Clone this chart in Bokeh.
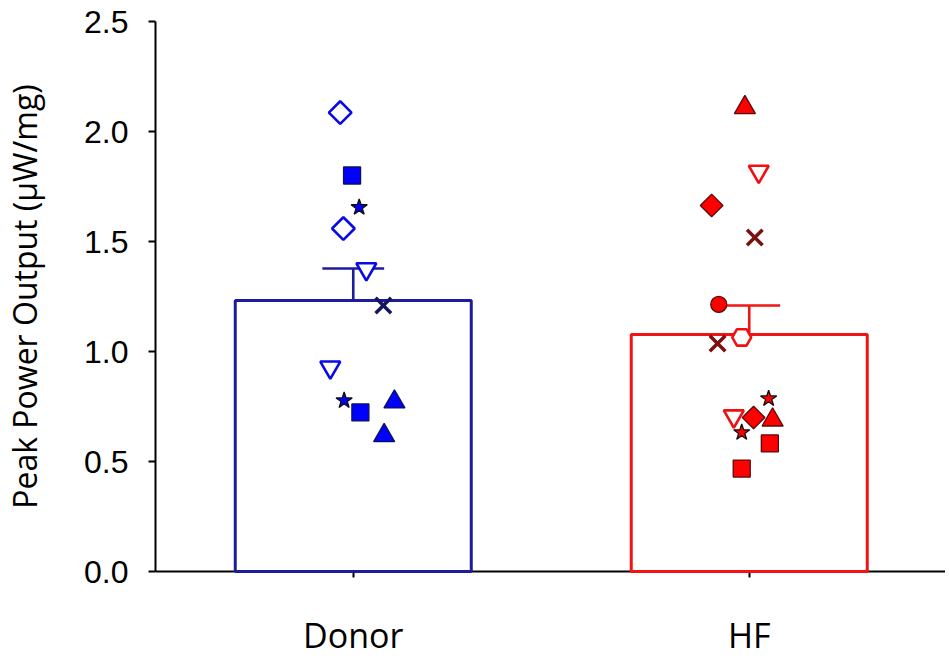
import math
from bokeh.plotting import figure
from bokeh.models import ColumnDataSource, Range1d, FixedTicker, PrintfTickFormatter
from bokeh.embed import file_html
from bokeh.resources import INLINE

# ---------------- data ----------------
groups = ["Donor", "HF"]
group_pos = [1, 2]
bar_means = [1.232, 1.077]
bar_sem = [0.145, 0.132]

donor_offsets = [-0.033, -0.003, 0.015, -0.025, 0.033, 0.076, -0.058, -0.023, 0.018, 0.104, 0.078]
donor_values = [2.086, 1.800, 1.655, 1.559, 1.375, 1.209, 0.928, 0.777, 0.723, 0.771, 0.618]
donor_types = ["diamond_open", "square", "star", "diamond_open", "invtri_open", "x",
               "invtri_open", "star", "square", "triangle", "triangle"]

hf_offsets = [-0.011, 0.024, -0.095, 0.014, -0.077, -0.019, -0.080, -0.039, 0.011, 0.049, -0.019, 0.059, 0.052, -0.019]
hf_values = [2.109, 1.818, 1.664, 1.518, 1.214, 1.064, 1.036, 0.706, 0.700, 0.786, 0.632, 0.689, 0.582, 0.468]
hf_types = ["triangle", "invtri_open", "diamond", "x", "circle", "hex_open", "x",
            "invtri_open", "diamond", "star", "star", "triangle", "square", "square"]

y_ticks = [0.0, 0.5, 1.0, 1.5, 2.0, 2.5]

# ---------------- styles ----------------
palette = {
    "Donor": dict(fill="#0000ff", edge="#10105a", open="#0a0ae6", x="#16165e", bar="#1c1c9c"),
    "HF": dict(fill="#ff0000", edge="#5a0a0a", open="#f01010", x="#7a1010", bar="#f01414"),
}
shape = {
    "square": ("square", 17, 0.0, True),
    "diamond": ("square", 16, math.pi / 4, True),
    "diamond_open": ("square", 16, math.pi / 4, False),
    "triangle": ("triangle", 21, 0.0, True),
    "invtri_open": ("inverted_triangle", 20, 0.0, False),
    "star": ("star", 17, 0.0, True),
    "x": ("x", 22, 0.0, None),
    "circle": ("circle", 16, 0.0, True),
    "hex_open": ("hex", 19, 0.0, False),
}

def build_source(center, offsets, values, types, col):
    d = dict(x=[], y=[], marker=[], size=[], angle=[], fill=[], line=[], lw=[])
    for off, v, t in zip(offsets, values, types):
        m, s, a, filled = shape[t]
        d["x"].append(center + off)
        d["y"].append(v)
        d["marker"].append(m)
        d["size"].append(s)
        d["angle"].append(a)
        if filled is None:
            d["fill"].append(col["x"]); d["line"].append(col["x"]); d["lw"].append(3.5)
        elif filled:
            d["fill"].append(col["fill"])
            d["line"].append("#101010" if m == "star" else col["edge"])
            d["lw"].append(1.3)
        else:
            d["fill"].append("white"); d["line"].append(col["open"]); d["lw"].append(2.6)
    return ColumnDataSource(d)

# ---------------- figure ----------------
p = figure(width=945, height=660, x_range=Range1d(0.5006, 2.4956), y_range=Range1d(0, 2.5),
           output_backend="svg", toolbar_location=None,
           min_border_left=154, min_border_right=0, min_border_top=21, min_border_bottom=89)
p.outline_line_color = None
p.grid.visible = False
p.background_fill_color = "white"
p.border_fill_color = "white"

bars = p.vbar(x=group_pos, top=bar_means, bottom=0, width=0.596, fill_color=None,
              line_color=[palette[g]["bar"] for g in groups], line_width=3)
bars.level = "overlay"

err_top = [m + s for m, s in zip(bar_means, bar_sem)]
cap_half = 0.078
e1 = p.segment(x0=group_pos, y0=bar_means, x1=group_pos, y1=err_top,
               line_color=[palette[g]["bar"] for g in groups], line_width=2.6)
e2 = p.segment(x0=[g - cap_half for g in group_pos], y0=err_top,
               x1=[g + cap_half for g in group_pos], y1=err_top,
               line_color=[palette[g]["bar"] for g in groups], line_width=2.6)
e1.level = "overlay"
e2.level = "overlay"

for center, offs, vals, types, g in [(1, donor_offsets, donor_values, donor_types, "Donor"),
                                     (2, hf_offsets, hf_values, hf_types, "HF")]:
    src = build_source(center, offs, vals, types, palette[g])
    r = p.scatter(x="x", y="y", marker="marker", size="size", angle="angle",
                  fill_color="fill", line_color="line", line_width="lw", source=src)
    r.level = "overlay"

# axes
xa = p.xaxis[0]
xa.ticker = FixedTicker(ticks=group_pos)
xa.major_label_overrides = {gp: g for gp, g in zip(group_pos, groups)}
xa.major_label_text_font = "Open Sans"
xa.major_label_text_font_size = "34px"
xa.major_label_text_color = "black"
xa.major_label_standoff = 34
xa.major_tick_out = 6
xa.major_tick_in = 0
xa.minor_tick_out = 0
xa.minor_tick_in = 0
xa.axis_line_width = 2
xa.major_tick_line_width = 2

ya = p.yaxis[0]
ya.ticker = FixedTicker(ticks=y_ticks)
ya.formatter = PrintfTickFormatter(format="%.1f")
ya.major_label_text_font = "Liberation Sans"
ya.major_label_text_font_size = "32px"
ya.major_label_text_color = "black"
ya.major_label_standoff = 20
ya.major_tick_out = 7
ya.major_tick_in = 0
ya.minor_tick_out = 0
ya.minor_tick_in = 0
ya.axis_line_width = 2
ya.major_tick_line_width = 2
ya.axis_label = "Peak Power Output (μW/mg)"
ya.axis_label_text_font = "Open Sans"
ya.axis_label_text_font_size = "32px"
ya.axis_label_text_font_style = "normal"
ya.axis_label_text_color = "black"
ya.axis_label_standoff = 35

open("out.html", "w").write(file_html(p, INLINE))
